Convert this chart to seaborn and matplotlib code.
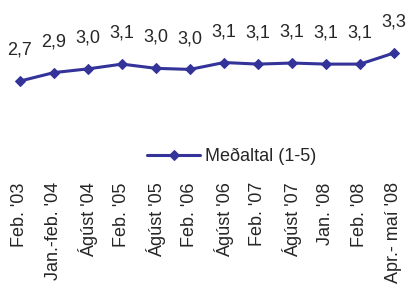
import pandas as pd
import matplotlib
matplotlib.use('Agg')
import matplotlib.pyplot as plt
import seaborn as sns

# values
periods = ["Feb. '03", "Jan.-feb. '04", "Ágúst '04", "Feb. '05", "Ágúst '05", "Feb. '06",
           "Ágúst '06", "Feb. '07", "Ágúst '07", "Jan. '08", "Feb. '08", "Apr.- maí '08"]
medaltal = [2.74, 2.90, 2.97, 3.06, 2.98, 2.96, 3.09, 3.06, 3.08, 3.06, 3.06, 3.27]
series_name = "Meðaltal (1-5)"

sns.set_style('white')
plt.rcParams['font.family'] = ['Liberation Sans', 'DejaVu Sans']

data = pd.DataFrame({'idx': range(len(periods)), 'val': medaltal})

fig = plt.figure(figsize=(4.11, 2.89), dpi=100)
ax = fig.add_axes([3 / 411, (289 - 178) / 289, 408 / 411, 178 / 289])

color = '#333399'
sns.lineplot(data=data, x='idx', y='val', ax=ax, color=color, linewidth=2.2,
             marker='D', markersize=5, markeredgecolor=color, label=series_name)

# data labels
for i, v in enumerate(medaltal):
    ax.annotate(f"{v:.1f}".replace('.', ','), (i, v), xytext=(0, 19),
                textcoords='offset points', ha='center', va='baseline', fontsize=13)

ax.set_xlim(-0.5, len(periods) - 0.5)
ax.set_ylim(0.91, 4.27)
ax.set_xticks(range(len(periods)))
ax.set_xticklabels(periods, rotation=90, fontsize=13)
ax.set_yticks([])
ax.tick_params(axis='x', length=0, pad=3)
ax.set_xlabel('')
ax.set_ylabel('')
for s in ax.spines.values():
    s.set_visible(False)

ax.legend(loc='center', bbox_to_anchor=(0.561, 0.12), frameon=False, fontsize=13,
          handlelength=2.9, handletextpad=0.3)

fig.savefig('out.png', dpi=100)
